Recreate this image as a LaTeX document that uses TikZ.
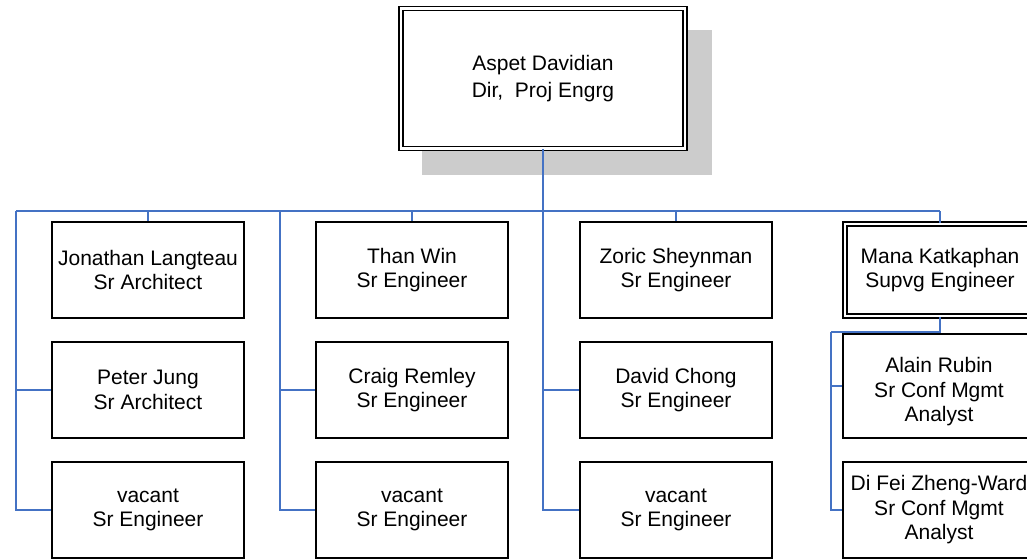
\documentclass[tikz,border=0pt]{standalone}
\usepackage{fontspec}
\setmainfont{Liberation Sans}
\definecolor{linkblue}{HTML}{4472C4}
\definecolor{shadowgray}{HTML}{CCCCCC}
\begin{document}
\begin{tikzpicture}[x=1pt,y=-1pt,
  person/.style={draw=black, line width=1.4pt, fill=white, align=center,
    inner sep=0pt, minimum width=192pt, minimum height=96pt,
    font=\fontsize{21}{24.5}\selectfont},
  chief/.style={person, double, double distance=2.4pt, line width=1.5pt},
  link/.style={draw=linkblue, line width=1.7pt},
  trunk/.style={draw=linkblue, line width=2.6pt}]
\useasboundingbox (0,0) rectangle (1027,558);
\clip (0,0) rectangle (1027,558);
% shadow of top box
\fill[shadowgray] (422,30) rectangle (712,175);
% nodes
\node[chief, minimum width=284pt, minimum height=140pt, font=\fontsize{21}{27}\selectfont] (top) at (543,78.5) {Aspet Davidian\\Dir,\ \ Proj Engrg};
\node[person] (j1) at (148,270) {Jonathan Langteau\\Sr Architect};
\node[person] (j2) at (148,390) {Peter Jung\\Sr Architect};
\node[person] (j3) at (148,510) {vacant\\Sr Engineer};
\node[person] (t1) at (412,270) {Than Win\\Sr Engineer};
\node[person] (t2) at (412,390) {Craig Remley\\Sr Engineer};
\node[person] (t3) at (412,510) {vacant\\Sr Engineer};
\node[person] (z1) at (676,270) {Zoric Sheynman\\Sr Engineer};
\node[person] (z2) at (676,390) {David Chong\\Sr Engineer};
\node[person] (z3) at (676,510) {vacant\\Sr Engineer};
\node[chief, minimum width=190pt, minimum height=92pt] (m1) at (940,270) {Mana Katkaphan\\Supvg Engineer};
\node[person, minimum height=104pt] (a1) at (939,386) {\rule{0pt}{27pt}Alain Rubin\\Sr Conf Mgmt\\Analyst};
\node[person] (a2) at (939,510) {Di Fei Zheng-Ward\\Sr Conf Mgmt\\Analyst};
% connector coordinates
\coordinate (busL) at (16,211);
\coordinate (busR) at (940,211);
\coordinate (c2) at (280,211);
\coordinate (mk) at (831,332);
% bus
\draw[link] (busL) -- (busR);
\draw[trunk] (top.south) -- (top.south |- busL);
% drops to first row
\draw[link] (j1.north |- busL) -- (j1.north);
\draw[link] (t1.north |- busL) -- (t1.north);
\draw[link] (z1.north |- busL) -- (z1.north);
\draw[link] (busR) -- (m1.north);
% column 1
\draw[link] (busL) |- (j3.west);
\draw[link] (busL |- j2.west) -- (j2.west);
% column 2
\draw[link] (c2) |- (t3.west);
\draw[link] (c2 |- t2.west) -- (t2.west);
% column 3
\draw[link] (top.south |- busL) |- (z3.west);
\draw[link] (top.south |- z2.west) -- (z2.west);
% column 4
\draw[link] (m1.south) |- (mk);
\draw[link] (mk) |- (a2.west);
\draw[link] (mk |- a1.west) -- (a1.west);
\end{tikzpicture}
\end{document}
